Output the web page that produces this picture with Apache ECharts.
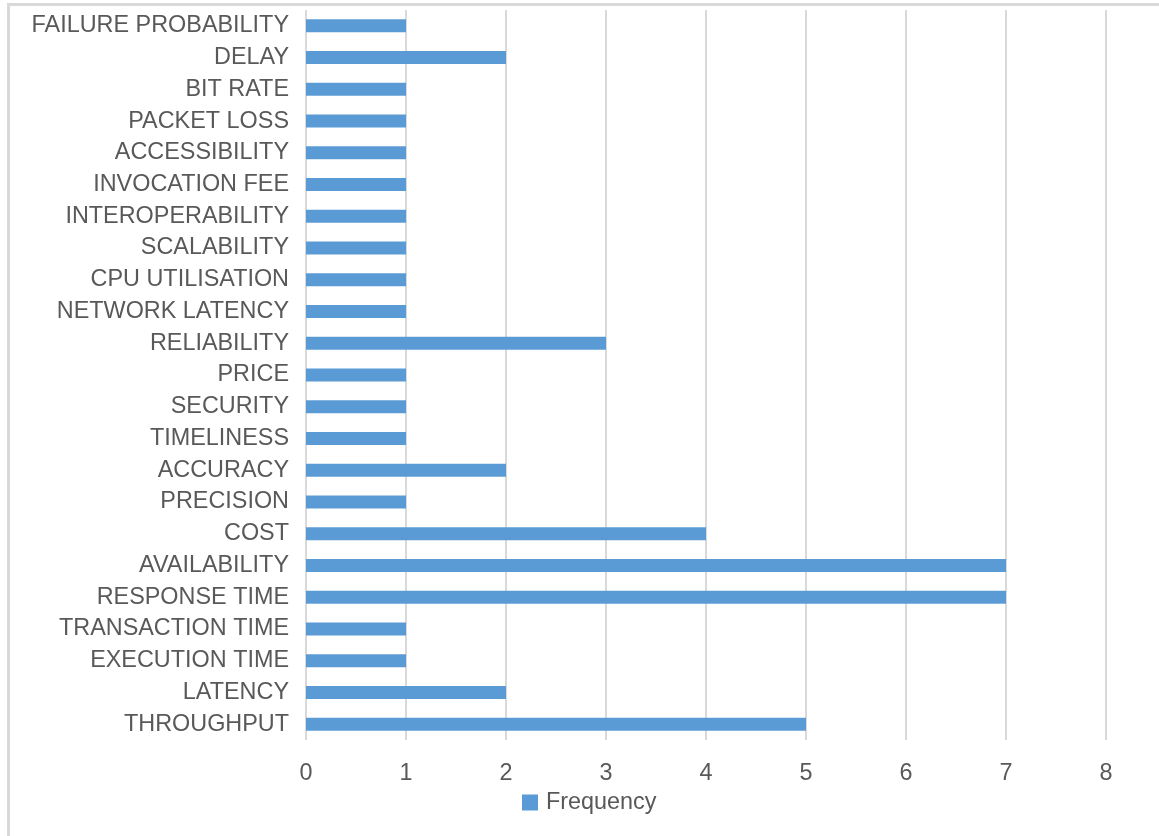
<!DOCTYPE html>
<html>
<head>
<meta charset="utf-8">
<script src="https://cdn.jsdelivr.net/npm/echarts@6/dist/echarts.min.js"></script>
<style>
  html, body { margin: 0; padding: 0; background: #fff; }
  #frame { position: absolute; left: 7px; top: 3px; width: 1200px; height: 900px;
    border-top: 3px solid #d9d9d9; border-left: 3px solid #d9d9d9; }
  #main { position: absolute; left: 0; top: 0; width: 1159px; height: 836px; }
</style>
</head>
<body>
<div id="frame"></div>
<div id="main"></div>
<script>
// categories listed bottom to top, as the axis draws them
const categories = [
  'THROUGHPUT', 'LATENCY', 'EXECUTION TIME', 'TRANSACTION TIME', 'RESPONSE TIME',
  'AVAILABILITY', 'COST', 'PRECISION', 'ACCURACY', 'TIMELINESS', 'SECURITY',
  'PRICE', 'RELIABILITY', 'NETWORK LATENCY', 'CPU UTILISATION', 'SCALABILITY',
  'INTEROPERABILITY', 'INVOCATION FEE', 'ACCESSIBILITY', 'PACKET LOSS',
  'BIT RATE', 'DELAY', 'FAILURE PROBABILITY'
];
const frequency = [5, 2, 1, 1, 7, 7, 4, 1, 2, 1, 1, 1, 3, 1, 1, 1, 1, 1, 1, 1, 1, 2, 1];
const seriesName = 'Frequency';

const FontFamily = '"Helvetica Neue", "Liberation Sans", Arial, sans-serif';
const FontSize = 23.4;
const TextColor = '#595959';

var chart = echarts.init(document.getElementById('main'), null, { renderer: 'canvas' });

var option = {
  backgroundColor: 'transparent',
  animation: false,
  color: ['#5b9bd5'],
  grid: {
    left: 306,
    right: 53,
    top: 10,
    bottom: 96,
    containLabel: false
  },
  legend: {
    bottom: 17,
    left: 517,
    itemWidth: 16,
    itemHeight: 16,
    itemGap: 10,
    icon: 'rect',
    textStyle: {
      fontSize: FontSize,
      color: TextColor,
      fontFamily: FontFamily,
      padding: [0, 0, 0, 3]
    },
    data: [seriesName]
  },
  xAxis: {
    type: 'value',
    min: 0,
    max: 8,
    interval: 1,
    axisLine: { show: false },
    axisTick: { show: false },
    axisLabel: {
      fontSize: FontSize,
      color: TextColor,
      fontFamily: FontFamily,
      margin: 22
    },
    splitLine: {
      lineStyle: { color: '#d9d9d9', width: 2 }
    }
  },
  yAxis: {
    type: 'category',
    data: categories,
    axisLine: { show: false },
    axisTick: { show: false },
    axisLabel: {
      fontSize: FontSize,
      color: TextColor,
      fontFamily: FontFamily,
      margin: 17
    },
    splitLine: { show: false }
  },
  series: [{
    name: seriesName,
    type: 'bar',
    data: frequency,
    barWidth: 13
  }]
};

chart.setOption(option);
</script>
</body>
</html>
